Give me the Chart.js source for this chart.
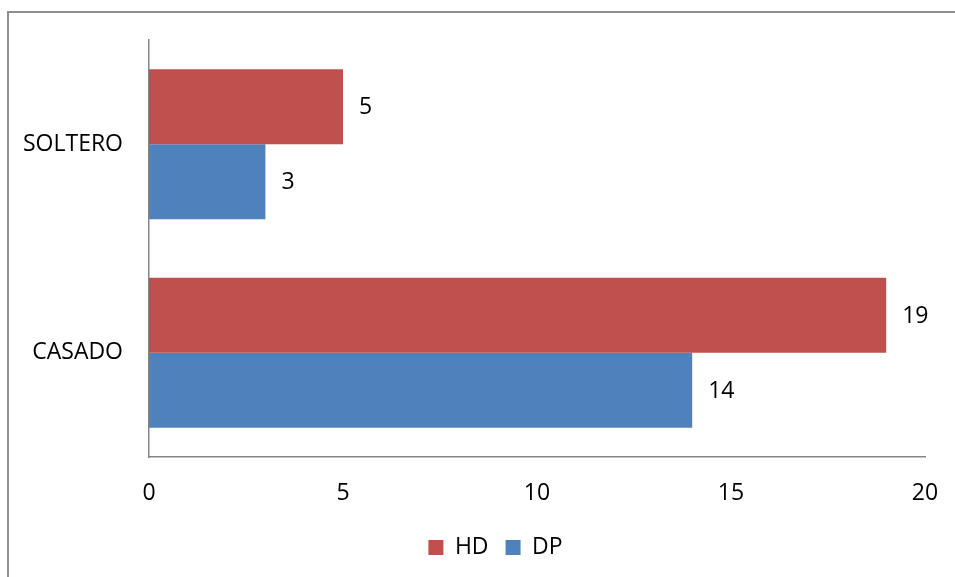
<!DOCTYPE html>
<html>
<head>
<meta charset="utf-8">
<title>Estado civil</title>
<script src="https://cdn.jsdelivr.net/npm/chart.js@4.4.0/dist/chart.umd.min.js"></script>
<style>
    html, body { margin: 0; padding: 0; background: #fff; overflow: hidden; }
    #frame { position: absolute; left: 7px; top: 11px; width: 1000px; height: 1000px;
             border-left: 2px solid #8f8f8f; border-top: 2px solid #8f8f8f; }
    #chartBox { position: absolute; left: 0; top: 0; width: 955px; height: 577px; }
</style>
</head>
<body>
<div id="frame"></div>
<div id="chartBox"><canvas id="estadoChart" width="955" height="577"></canvas></div>
<script>
// estado civil por grupo
var categorias = ['SOLTERO', 'CASADO'];
var valoresHD = [5, 19];
var valoresDP = [3, 14];
var ticksX = [0, 5, 10, 15, 20];

var fuente = { family: "'Open Sans', sans-serif", size: 23 };
var colorEje = '#868686';

// etiqueta con el valor a la derecha de cada barra
var etiquetasBarras = {
    id: 'etiquetasBarras',
    afterDatasetsDraw: function(chart) {
        var ctx = chart.ctx;
        ctx.save();
        ctx.font = "23px 'Open Sans', sans-serif";
        ctx.fillStyle = '#000';
        ctx.textAlign = 'left';
        ctx.textBaseline = 'middle';
        chart.data.datasets.forEach(function(ds, i) {
            chart.getDatasetMeta(i).data.forEach(function(bar, j) {
                ctx.fillText(String(ds.data[j]), bar.x + 16, bar.y + 1);
            });
        });
        ctx.restore();
    }
};

// corre la leyenda un poco a la derecha
var desplazaLeyenda = {
    id: 'desplazaLeyenda',
    afterLayout: function(chart) {
        if (chart.legend) { chart.legend.left += 33; chart.legend.right += 33; }
    }
};

new Chart(document.getElementById('estadoChart').getContext('2d'), {
    type: 'bar',
    data: {
        labels: categorias,
        datasets: [
            { label: 'HD', data: valoresHD, backgroundColor: '#C0504D', barPercentage: 1, categoryPercentage: 0.72 },
            { label: 'DP', data: valoresDP, backgroundColor: '#4F81BD', barPercentage: 1, categoryPercentage: 0.72 }
        ]
    },
    options: {
        responsive: false,
        animation: false,
        indexAxis: 'y',
        layout: { padding: { left: 0, top: 40, right: 30, bottom: 8 } },
        scales: {
            x: {
                min: ticksX[0], max: ticksX[ticksX.length - 1],
                afterBuildTicks: function(scale) { scale.ticks = ticksX.map(function(v) { return { value: v }; }); },
                afterFit: function(scale) {
                    scale.height = 62;
                    scale.paddingLeft = 0;
                    scale.paddingRight = 0;
                },
                grid: { display: false, drawTicks: false },
                border: { display: true, color: colorEje, width: 1.5 },
                ticks: { color: '#000', font: fuente, padding: 23, maxRotation: 0 }
            },
            y: {
                afterFit: function(scale) { scale.width = 149; },
                grid: { display: false, drawTicks: false },
                border: { display: true, color: colorEje, width: 1.5 },
                ticks: { color: '#000', font: fuente, padding: 26 }
            }
        },
        plugins: {
            legend: {
                position: 'bottom',
                labels: { color: '#000', font: fuente, boxWidth: 15, boxHeight: 15, padding: 17 }
            },
            tooltip: { enabled: false }
        }
    },
    plugins: [etiquetasBarras, desplazaLeyenda]
});
</script>
</body>
</html>
